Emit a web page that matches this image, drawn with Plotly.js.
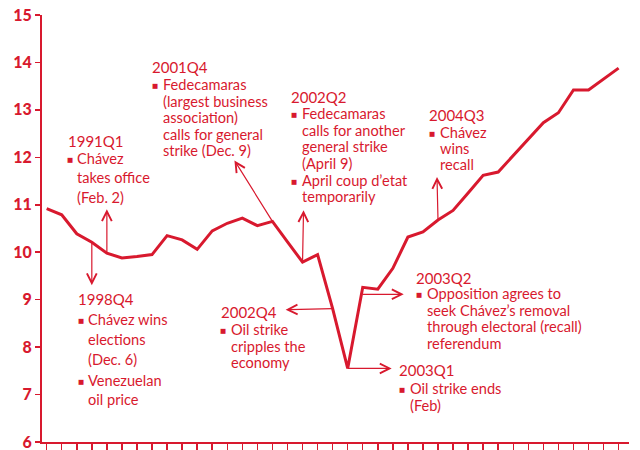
<!DOCTYPE html>
<html><head><meta charset="utf-8">
<script src="https://cdn.plot.ly/plotly-3.0.1.min.js"></script>
<style>html,body{margin:0;padding:0;background:#fff}#chart{width:640px;height:450px}</style>
</head><body><div id="chart"></div>
<script>
// ---- data ----
const quarters = ['1998Q1','1998Q2','1998Q3','1998Q4','1999Q1','1999Q2','1999Q3','1999Q4',
  '2000Q1','2000Q2','2000Q3','2000Q4','2001Q1','2001Q2','2001Q3','2001Q4',
  '2002Q1','2002Q2','2002Q3','2002Q4','2003Q1','2003Q2','2003Q3','2003Q4',
  '2004Q1','2004Q2','2004Q3','2004Q4','2005Q1','2005Q2','2005Q3','2005Q4',
  '2006Q1','2006Q2','2006Q3','2006Q4','2007Q1','2007Q2','2007Q3'];
const oilPrice = [10.92,10.79,10.39,10.21,9.98,9.88,9.91,9.95,
  10.35,10.26,10.06,10.45,10.61,10.72,10.56,10.65,
  10.22,9.79,9.95,8.81,7.55,9.26,9.22,9.66,
  10.32,10.43,10.68,10.88,11.25,11.62,11.69,12.03,
  12.38,12.73,12.94,13.42,13.42,13.65,13.88];
const yTickVals = [6,7,8,9,10,11,12,13,14,15];
const yTickText = ['6','7','8','9','10','11','12','13','14','15'];

// event labels: quarter of event, heading, bullet items (each a list of lines)
const eventQuarters = ['1998Q4','1999Q1','2001Q4','2002Q2','2002Q4','2003Q1','2003Q2','2004Q3'];
const eventHeadings = ['1998Q4','1991Q1','2001Q4','2002Q2','2002Q4','2003Q1','2003Q2','2004Q3'];
const eventItems = [
  [['Chávez wins','elections','(Dec. 6)'],['Venezuelan','oil price']],
  [['Chávez','takes office','(Feb. 2)']],
  [['Fedecamaras','(largest business','association)','calls for general','strike (Dec. 9)']],
  [['Fedecamaras','calls for another','general strike','(April 9)'],['April coup d’etat','temporarily']],
  [['Oil strike','cripples the','economy']],
  [['Oil strike ends','(Feb)']],
  [['Opposition agrees to','seek Chávez’s removal','through electoral (recall)','referendum']],
  [['Chávez','wins','recall']]
];

// ---- styling / layout helpers (positions in pixels) ----
const RED = '#d8192e';
const W = 640, H = 450, ML = 42, MR = 11, MT = 15, MB = 8;
const PW = W - ML - MR, PH = H - MT - MB;
const px = x => (x - ML) / PW;
const py = y => (H - MB - y) / PH;
const FONT = 'Lato, "Open Sans", sans-serif';

// layout of text blocks: heading x, heading y, text x, line centre y's
const blockPos = [
  {hx:78, hy:299, tx:88, ys:[[319,339,359],[380,399]]},
  {hx:67.5, hy:141, tx:77, ys:[[158,177,197]]},
  {hx:152, hy:67, tx:163, ys:[[84.5,101,117.5,134,150.5]]},
  {hx:291, hy:97, tx:301.5, ys:[[113.5,130,146.5,163],[180,196.5]]},
  {hx:220.5, hy:311.5, tx:231, ys:[[329.5,346,362.5]]},
  {hx:399, hy:370, tx:410, ys:[[388,405]]},
  {hx:416, hy:277.5, tx:426.5, ys:[[293.5,310,326.5,343.5]]},
  {hx:429, hy:115, tx:439.5, ys:[[132,148.5,165]]}
];
// arrow offsets (pixels) from the event point to arrow head
const arrowPos = [
  {ax:0, ay:43}, {ax:0, ay:-44}, {ax:-38, ay:-61}, {ax:1, ay:-52},
  {ax:-47, ay:1}, {ax:44, ay:0}, {ax:41, ay:0, ys:-7}, {ax:-1, ay:-43}
];

const annotations = [];
function textAnn(x, y, t, size, fam) {
  annotations.push({xref:'paper', yref:'paper', x:px(x), y:py(y), xanchor:'left', yanchor:'middle',
    text:t, showarrow:false, borderpad:0, borderwidth:0,
    font:{family:fam||FONT, size:size||14, color:RED}});
}
eventQuarters.forEach((q, i) => {
  const idx = quarters.indexOf(q);
  const a = arrowPos[i];
  annotations.push({xref:'x', yref:'y', x:idx, y:oilPrice[idx], ax:a.ax, ay:a.ay,
    text:'', showarrow:true, arrowside:'start', startarrowhead:5, startarrowsize:1.6,
    arrowwidth:1.2, arrowcolor:RED, borderpad:0, borderwidth:0, standoff:0, startstandoff:0,
    yshift:a.ys||0});
  const b = blockPos[i];
  textAnn(b.hx, b.hy, eventHeadings[i], 15);
  eventItems[i].forEach((lines, k) => {
    textAnn(b.hx - 0.5, b.ys[k][0] + 1.5, '■', 6.5, 'DejaVu Sans');
    lines.forEach((ln, j) => textAnn(b.tx, b.ys[k][j], ln, 14.6));
  });
});

const trace = {x:quarters, y:oilPrice, type:'scatter', mode:'lines',
  line:{color:RED, width:3}, hoverinfo:'skip'};

const layout = {
  width:W, height:H, margin:{l:ML, r:MR, t:MT, b:MB, pad:0},
  paper_bgcolor:'#fff', plot_bgcolor:'#fff', showlegend:false,
  xaxis:{type:'category', range:[-0.31, 38.69], tickmode:'linear', tick0:-0.31, dtick:1,
    ticks:'outside', ticklen:6, tickwidth:1.5, tickcolor:RED, showticklabels:false,
    showline:true, linecolor:RED, linewidth:2, showgrid:false, zeroline:false},
  yaxis:{range:[6,15], tickmode:'array', tickvals:yTickVals, ticktext:yTickText,
    ticks:'outside', ticklen:5, tickwidth:1.5, tickcolor:RED, ticklabeloverflow:'allow',
    showline:true, linecolor:RED, linewidth:2, showgrid:false, zeroline:false,
    tickfont:{family:FONT, size:16, color:RED, weight:900}},
  annotations:annotations
};
Plotly.newPlot('chart', [trace], layout, {staticPlot:true, displayModeBar:false});
</script></body></html>
